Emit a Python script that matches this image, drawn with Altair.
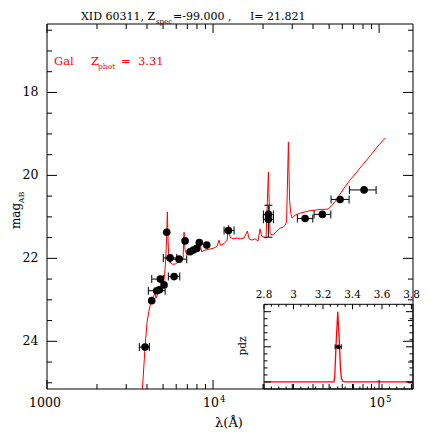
import altair as alt
import pandas as pd

# ---------------- data ----------------
spec_wave = [3710, 3787, 3894, 4004, 4117, 4232, 4351, 4473, 4536, 4664, 4861, 4998, 5103, 5175,
             5248, 5306, 5357, 5409, 5508, 5662, 5903, 6068, 6328, 6597, 6689, 6783, 6973, 7268,
             7685, 8011, 8350, 8525, 8950, 9461, 10000, 10571, 10867, 11097, 11650, 12143, 12400,
             12661, 13198, 13951, 14546, 15375, 16097, 16482, 17180, 17906, 18665, 19190, 19596,
             20290, 20860, 21540, 22050, 22985, 23960, 25320, 26400, 27140, 27720, 28420, 28900,
             29380, 29920, 31190, 33440, 35840, 38400, 41170, 44120, 47290, 49300, 52120, 54310,
             58240, 62420, 66890, 72670, 80110, 88260, 98630, 108660]
spec_mag = [25.41, 24.93, 24.14, 23.54, 23.25, 23.05, 22.93, 22.85, 22.96, 22.84, 22.76, 22.72, 22.40, 22.09,
            21.56, 20.88, 21.56, 21.92, 22.09, 22.14, 22.14, 22.11, 22.07, 22.02, 21.37, 21.80, 21.92, 21.87,
            21.82, 21.80, 21.61, 21.84, 21.80, 21.78, 21.76, 21.71, 21.56, 21.69, 21.64, 21.56, 21.20,
            21.49, 21.53, 21.51, 21.53, 21.51, 21.34, 21.53, 21.56, 21.53, 21.58, 21.29, 21.46,
            21.49, 21.51, 19.92, 21.41, 21.44, 21.37, 21.27, 21.25, 21.20, 21.13, 19.20, 20.60,
            20.91, 21.03, 20.96, 20.91, 20.88, 20.85, 20.84, 20.82, 20.82, 20.81, 20.72, 20.63,
            20.45, 20.27, 20.11, 19.94, 19.73, 19.53, 19.29, 19.10]

phot_wave = [3894, 4273, 4579, 4748, 4814, 5068, 5824, 5262, 5508, 6241, 6783, 7268, 7610, 7977,
             8270, 9162, 12370, 21540, 21540, 35840, 45540, 58240, 81220]
phot_mag = [24.14, 23.02, 22.78, 22.76, 22.50, 22.64, 22.44, 21.37, 21.99, 22.02, 21.58, 21.84, 21.80, 21.76,
            21.62, 21.68, 21.33, 20.94, 21.06, 21.04, 20.94, 20.58, 20.35]

err_mag = [24.14, 22.78, 22.50, 22.44, 21.99, 22.02, 21.33, 20.94, 21.06, 21.04, 20.94, 20.58, 20.35]
err_lo = [3597, 4076, 4273, 5378, 5018, 5508, 11650, 20090, 20090, 32190, 40580, 51380, 66230]
err_hi = [4133, 5145, 5018, 6303, 6044, 6944, 13380, 23080, 23080, 39860, 51170, 65960, 95920]

verr_wave = [21540]
verr_lo = [20.72]
verr_hi = [21.49]

pdz_z = [2.8, 3.275, 3.280, 3.290, 3.300, 3.310, 3.318, 3.325, 3.335, 3.35, 3.81]
pdz_p = [0.0, 0.0, 0.1, 0.6, 1.0, 0.6, 0.2, 0.05, 0.01, 0.0, 0.0]
pdz_pt_z = [3.304]
pdz_pt_p = [0.5]
pdz_pt_lo = [3.282]
pdz_pt_hi = [3.324]

x_major = [1000, 10000, 100000]
x_minor = [2000, 3000, 4000, 5000, 6000, 7000, 8000, 9000,
           20000, 30000, 40000, 50000, 60000, 70000, 80000, 90000]
x_lab_base = ["1000", "10", "10"]
x_lab_exp = ["", "4", "5"]
y_major = [18, 20, 22, 24]
y_minor = [16.5, 17, 17.5, 18.5, 19, 19.5, 20.5, 21, 21.5, 22.5, 23, 23.5, 24.5, 25]
y_labels = ["18", "20", "22", "24"]

in_x_major = [2.8, 3.0, 3.2, 3.4, 3.6, 3.8]
in_x_labels = ["2.8", "3", "3.2", "3.4", "3.6", "3.8"]
in_x_minor = [2.85, 2.9, 2.95, 3.05, 3.1, 3.15, 3.25, 3.3, 3.35, 3.45, 3.5, 3.55, 3.65, 3.7, 3.75]
in_y_major = [0.0, 0.5, 1.0]
in_y_minor = [0.1, 0.2, 0.3, 0.4, 0.6, 0.7, 0.8, 0.9, 1.1]

# ---------------- layout ----------------
W, H = 366, 365
FONT = "DejaVu Serif"
RED = "#ff0000"

xs = alt.Scale(type="log", domain=[1000, 160000], nice=False)
ys = alt.Scale(domain=[16.35, 25.15], reverse=True, nice=False, zero=False)
IX0, IX1, IY0, IY1 = 217, 366, 365, 280.3
ixs = alt.Scale(domain=[2.8, 3.81], range=[IX0, IX1], nice=False, zero=False)
iys = alt.Scale(domain=[-0.1, 1.105], range=[IY0, IY1], nice=False, zero=False)

one = pd.DataFrame({"a": [0]})


def X(f):
    return alt.X(f, type="quantitative", scale=xs, axis=None)


def Y(f):
    return alt.Y(f, type="quantitative", scale=ys, axis=None)


def IXf(f):
    return alt.X(f, type="quantitative", scale=ixs, axis=None)


def IYf(f):
    return alt.Y(f, type="quantitative", scale=iys, axis=None)


def txt(text, x, y, size, color="black", align="left", angle=0):
    mk = dict(text=text, font=FONT, fontSize=size, color=color, align=align, baseline="alphabetic")
    if angle:
        mk["angle"] = angle
    return alt.Chart(one).mark_text(**mk).encode(x=alt.value(x), y=alt.value(y))


layers = []

# spectrum
spec = pd.DataFrame({"w": spec_wave, "m": spec_mag})
layers.append(alt.Chart(spec).mark_line(color=RED, strokeWidth=1, clip=True).encode(
    x=X("w"), y=Y("m"), order="w:Q"))

# error bars
err = pd.DataFrame({"m": err_mag, "lo": err_lo, "hi": err_hi})
layers.append(alt.Chart(err).mark_rule(color="black", strokeWidth=1).encode(
    x=X("lo"), x2="hi", y=Y("m")))
layers.append(alt.Chart(err).mark_tick(orient="vertical", size=8, thickness=1, color="black", opacity=1).encode(
    x=X("lo"), y=Y("m")))
layers.append(alt.Chart(err).mark_tick(orient="vertical", size=8, thickness=1, color="black", opacity=1).encode(
    x=X("hi"), y=Y("m")))
verr = pd.DataFrame({"w": verr_wave, "lo": verr_lo, "hi": verr_hi})
layers.append(alt.Chart(verr).mark_rule(color="black", strokeWidth=1).encode(
    x=X("w"), y=Y("lo"), y2="hi"))
for f in ["lo", "hi"]:
    layers.append(alt.Chart(verr).mark_tick(orient="horizontal", size=8, thickness=1, color="black", opacity=1).encode(
        x=X("w"), y=Y(f)))

# photometry points
phot = pd.DataFrame({"w": phot_wave, "m": phot_mag})
layers.append(alt.Chart(phot).mark_circle(size=58, color="black", opacity=1).encode(
    x=X("w"), y=Y("m")))

# ---------------- inset ----------------
box = pd.DataFrame({"x0": [2.8], "x1": [3.81], "y0": [-0.1], "y1": [1.105]})
layers.append(alt.Chart(box).mark_rect(fill="white", stroke="black", strokeWidth=1).encode(
    x=IXf("x0"), x2="x1", y=IYf("y0"), y2="y1"))
pdz = pd.DataFrame({"z": pdz_z, "p": pdz_p})
layers.append(alt.Chart(pdz).mark_line(color=RED, strokeWidth=1.3).encode(
    x=IXf("z"), y=IYf("p"), order="z:Q"))
ipt = pd.DataFrame({"z": pdz_pt_z, "p": pdz_pt_p, "lo": pdz_pt_lo, "hi": pdz_pt_hi})
layers.append(alt.Chart(ipt).mark_rule(color="black", strokeWidth=1).encode(
    x=IXf("lo"), x2="hi", y=IYf("p")))
for f in ["lo", "hi"]:
    layers.append(alt.Chart(ipt).mark_tick(orient="vertical", size=5, thickness=1, color="black", opacity=1).encode(
        x=IXf(f), y=IYf("p")))
layers.append(alt.Chart(ipt).mark_circle(size=22, color="black", opacity=1).encode(
    x=IXf("z"), y=IYf("p")))

# inset ticks
for vals, ln in [(in_x_major, 5), (in_x_minor, 2.5)]:
    d = pd.DataFrame({"v": vals})
    layers.append(alt.Chart(d).mark_rule(color="black", strokeWidth=1).encode(
        x=IXf("v"), y=alt.value(IY1), y2=alt.value(IY1 + ln)))
    layers.append(alt.Chart(d).mark_rule(color="black", strokeWidth=1).encode(
        x=IXf("v"), y=alt.value(IY0), y2=alt.value(IY0 - ln)))
for vals, ln in [(in_y_major, 7), (in_y_minor, 3.5)]:
    d = pd.DataFrame({"v": vals})
    layers.append(alt.Chart(d).mark_rule(color="black", strokeWidth=1).encode(
        y=IYf("v"), x=alt.value(IX0), x2=alt.value(IX0 + ln)))
    layers.append(alt.Chart(d).mark_rule(color="black", strokeWidth=1).encode(
        y=IYf("v"), x=alt.value(IX1), x2=alt.value(IX1 - ln)))
ilab = pd.DataFrame({"v": in_x_major, "t": in_x_labels})
layers.append(alt.Chart(ilab).mark_text(font=FONT, fontSize=10.5, align="center", baseline="alphabetic",
                                        color="black").encode(
    x=IXf("v"), y=alt.value(274), text="t:N"))
layers.append(txt("pdz", 199, 322, 10.5, angle=270, align="center"))

# ---------------- main frame, ticks ----------------
layers.append(alt.Chart(one).mark_rect(fillOpacity=0, stroke="black", strokeWidth=1).encode(
    x=alt.value(0), x2=alt.value(W), y=alt.value(0), y2=alt.value(H)))
for vals, ln in [(x_major, 9), (x_minor, 5)]:
    d = pd.DataFrame({"v": vals})
    layers.append(alt.Chart(d).mark_rule(color="black", strokeWidth=1).encode(
        x=X("v"), y=alt.value(H), y2=alt.value(H - ln)))
    layers.append(alt.Chart(d).mark_rule(color="black", strokeWidth=1).encode(
        x=X("v"), y=alt.value(0), y2=alt.value(ln)))
for vals, ln in [(y_major, 10), (y_minor, 5)]:
    d = pd.DataFrame({"v": vals})
    layers.append(alt.Chart(d).mark_rule(color="black", strokeWidth=1).encode(
        y=Y("v"), x=alt.value(0), x2=alt.value(ln)))
    layers.append(alt.Chart(d).mark_rule(color="black", strokeWidth=1).encode(
        y=Y("v"), x=alt.value(W), x2=alt.value(W - ln)))

# tick labels
ylab = pd.DataFrame({"v": y_major, "t": y_labels})
layers.append(alt.Chart(ylab).mark_text(font=FONT, fontSize=12.5, align="right", baseline="middle",
                                        color="black").encode(
    y=Y("v"), x=alt.value(-8.5), text="t:N"))
xlab = pd.DataFrame({"v": x_major, "t": x_lab_base, "e": x_lab_exp})
layers.append(alt.Chart(xlab).mark_text(font=FONT, fontSize=12.5, align="center", baseline="alphabetic",
                                        color="black", dx=-2).encode(
    x=X("v"), y=alt.value(383), text="t:N"))
layers.append(alt.Chart(xlab).mark_text(font=FONT, fontSize=8.5, align="left", baseline="alphabetic",
                                        color="black", dx=7).encode(
    x=X("v"), y=alt.value(378), text="e:N"))

# titles
layers.append(txt("XID 60311, Z", 34, -4, 11))
layers.append(txt("spec", 109, -0.5, 7))
layers.append(txt("=-99.000 ,", 126, -4, 11))
layers.append(txt("I= 21.821", 203, -4, 11))

layers.append(txt("Gal", 7, 41, 11.5, color=RED))
layers.append(txt("Z", 44, 41, 11.5, color=RED))
layers.append(txt("phot", 51, 44.5, 7.5, color=RED))
layers.append(txt("=", 74, 41, 11.5, color=RED))
layers.append(txt("3.31", 91, 41, 11.5, color=RED))

layers.append(txt("mag", -27, 192, 12, angle=270, align="center"))
layers.append(txt("AB", -23.5, 173.5, 8, angle=270, align="center"))
layers.append(txt("λ(Å)", 182, 403, 13, align="center"))

chart = alt.layer(*layers).resolve_scale(x="independent", y="independent").properties(
    width=W, height=H,
    autosize=alt.AutoSizeParams(type="none"),
    padding={"left": 39, "top": 16, "right": 15, "bottom": 44},
).configure_view(stroke=None)

chart.save("out.html", embed_options={"renderer": "svg", "actions": False})
